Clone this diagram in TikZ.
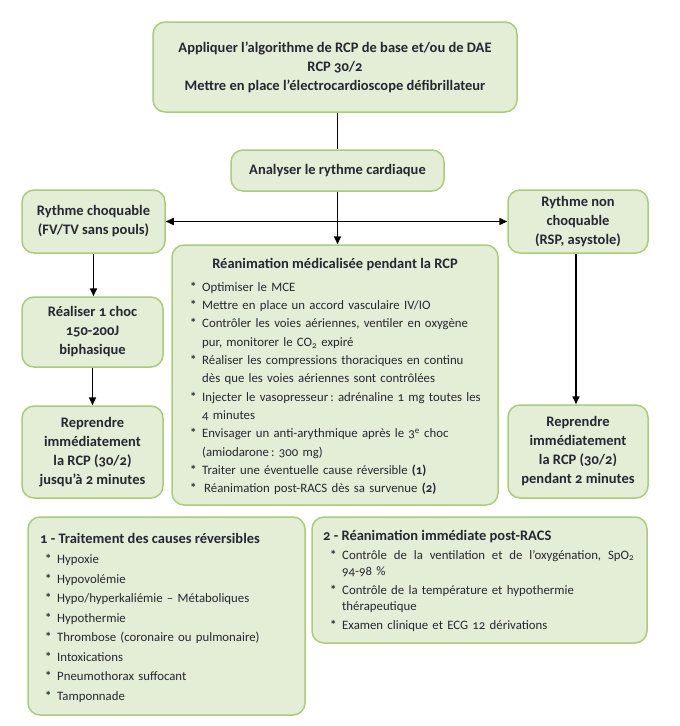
\documentclass[tikz,border=0pt]{standalone}
\usepackage{fontspec}
\setmainfont{Carlito}[Numbers=OldStyle]
\usetikzlibrary{arrows.meta}
\definecolor{boxfill}{HTML}{E4EDD5}
\definecolor{boxdraw}{HTML}{A9CC7D}
\definecolor{ink}{HTML}{262634}
\frenchspacing
\newcommand{\itm}[1]{\par\hangindent=12pt\hangafter=1\noindent\makebox[12pt][l]{\textbf{*}}#1}
\begin{document}
\begin{tikzpicture}[x=1pt,y=-1pt,
  box/.style={draw=boxdraw, fill=boxfill, line width=1.5pt, rounded corners=12pt, inner sep=0pt, text=ink},
  hdr/.style={font=\fontsize{14.5}{19}\selectfont\bfseries, align=center, text=ink},
  lst/.style={font=\fontsize{12.8}{18.3}\selectfont, text width=320pt, align=left, inner sep=0pt, anchor=base west, text=ink},
  conn/.style={draw=black, line width=1.6pt},
  arr/.style={conn, -{Triangle[length=8pt,width=7pt]}},
  darr/.style={conn, {Triangle[length=8pt,width=7pt]}-{Triangle[length=8pt,width=7pt]}}]
\useasboundingbox (0,0) rectangle (680,726);

\node[box, hdr, minimum width=364pt, minimum height=90pt] (top) at (335,67)
  {Appliquer l’algorithme de RCP de base et/ou de DAE\\RCP 30/2\\Mettre en place l’électrocardioscope défibrillateur};
\node[box, hdr, minimum width=213pt, minimum height=41pt] (ana) at (337.5,170.5) {Analyser le rythme cardiaque};
\node[box, hdr, minimum width=143pt, minimum height=63pt] (choq) at (93.5,221.5) {Rythme choquable\\(FV/TV sans pouls)};
\node[box, hdr, minimum width=140pt, minimum height=63pt] (nonchoq) at (578,221.5) {Rythme non\\choquable\\(RSP, asystole)};
\node[box, hdr, minimum width=141pt, minimum height=70pt] (real) at (92.5,332) {Réaliser 1 choc\\150-200J\\biphasique};
\node[box, hdr, minimum width=141pt, minimum height=92pt] (reprL) at (92.5,452) {Reprendre\\immédiatement\\la RCP (30/2)\\jusqu’à 2 minutes};
\node[box, hdr, minimum width=140pt, minimum height=93pt] (reprR) at (578,451.5) {Reprendre\\immédiatement\\la RCP (30/2)\\pendant 2 minutes};

\node[box, minimum width=326pt, minimum height=260pt] (rean) at (335,375) {};
\node[hdr, anchor=base] (reanh) at (335,268) {Réanimation médicalisée pendant la RCP};
\node[lst] (reanl) at (190,273) {%
\itm{Optimiser le MCE}
\itm{Mettre en place un accord vasculaire IV/IO}
\itm{Contrôler les voies aériennes, ventiler en oxygène\newline pur, monitorer le CO\textsubscript{2} expiré}
\itm{Réaliser les compressions thoraciques en continu\newline dès que les voies aériennes sont contrôlées}
\itm{Injecter le vasopresseur\,: adrénaline 1 mg toutes les\newline 4 minutes}
\itm{Envisager un anti-arythmique après le 3\textsuperscript{e} choc\newline (amiodarone\,: 300 mg)}
\itm{Traiter une éventuelle cause réversible \textbf{(1)}}
\itm{\hspace{2pt}Réanimation post-RACS dès sa survenue \textbf{(2)}}};

\node[box, minimum width=277pt, minimum height=198pt] (caus) at (166.5,616) {};
\node[hdr, anchor=base west, inner sep=0pt] (caush) at (40,543) {1 - Traitement des causes réversibles};
\node[lst, font=\fontsize{12.8}{19.5}\selectfont] (causl) at (45,544) {%
\itm{Hypoxie}
\itm{Hypovolémie}
\itm{Hypo/hyperkaliémie – Métaboliques}
\itm{Hypothermie}
\itm{Thrombose (coronaire ou pulmonaire)}
\itm{Intoxications}
\itm{Pneumothorax suffocant}
\itm{Tamponnade}};

\node[box, minimum width=335pt, minimum height=126pt] (post) at (479.5,580) {};
\node[hdr, anchor=base west, inner sep=0pt] (posth) at (323,540) {2 - Réanimation immédiate post-RACS};
\node[lst, font=\fontsize{12.8}{16}\selectfont, text width=305pt] (postl) at (330,540) {\setlength{\parskip}{3pt}%
\itm{\hbox to 292pt{Contrôle \hfill de \hfill la \hfill ventilation \hfill et \hfill de \hfill l’oxygénation, \hfill SpO\textsubscript{2}}\newline 94-98 \%}
\itm{Contrôle de la température et hypothermie\newline thérapeutique}
\itm{Examen clinique et ECG 12 dérivations}};

\draw[conn] (top.south -| ana.south) -- (ana.north);
\draw[arr] (ana.south) -- (ana.south |- rean.north);
\draw[darr] (choq.east) -- (nonchoq.west);
\draw[arr] (choq.south) -- (choq.south |- real.north);
\draw[arr] (real.south) -- (real.south |- reprL.north);
\draw[arr] (nonchoq.south -| reprR.north) ++(-2,0) coordinate (nc) -- (nc |- reprR.north);
\end{tikzpicture}
\end{document}
